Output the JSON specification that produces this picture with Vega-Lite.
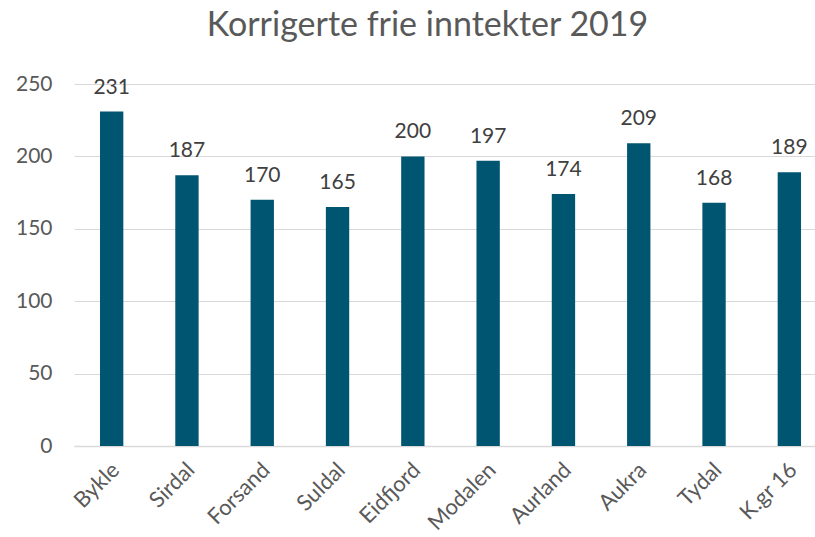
{
  "$schema": "https://vega.github.io/schema/vega-lite/v6.json",
  "autosize": "none",
  "width": 753,
  "height": 362,
  "padding": {"left": 74, "top": 84, "right": 0, "bottom": 91},
  "background": "white",
  "title": {
    "text": "Korrigerte frie inntekter 2019",
    "font": "Lato",
    "fontSize": 34,
    "fontWeight": "normal",
    "color": "#595959",
    "anchor": "middle",
    "dx": -23,
    "offset": 30
  },
  "config": {"view": {"stroke": null}, "font": "Lato"},
  "data": {
    "values": [
      {"kommune": "Bykle", "verdi": 231},
      {"kommune": "Sirdal", "verdi": 187},
      {"kommune": "Forsand", "verdi": 170},
      {"kommune": "Suldal", "verdi": 165},
      {"kommune": "Eidfjord", "verdi": 200},
      {"kommune": "Modalen", "verdi": 197},
      {"kommune": "Aurland", "verdi": 174},
      {"kommune": "Aukra", "verdi": 209},
      {"kommune": "Tydal", "verdi": 168},
      {"kommune": "K.gr 16", "verdi": 189}
    ]
  },
  "encoding": {
    "x": {
      "field": "kommune",
      "type": "nominal",
      "sort": null,
      "scale": {"paddingInner": 0.69, "paddingOuter": 0.345},
      "axis": {
        "title": null,
        "labelAngle": -45,
        "labelAlign": "right",
        "labelBaseline": "middle",
        "labelFont": "Lato",
        "labelFontSize": 22,
        "labelColor": "#595959",
        "labelPadding": 20,
        "labelOffset": 4,
        "ticks": false,
        "domainColor": "#d9d9d9",
        "domainWidth": 1.5,
        "grid": false
      }
    },
    "y": {
      "field": "verdi",
      "type": "quantitative",
      "scale": {"domain": [0, 250], "nice": false},
      "axis": {
        "title": null,
        "values": [0, 50, 100, 150, 200, 250],
        "labelFont": "Lato",
        "labelFontSize": 21,
        "labelColor": "#595959",
        "labelPadding": 22,
        "ticks": false,
        "domain": false,
        "gridColor": "#d9d9d9",
        "gridWidth": 1
      }
    }
  },
  "layer": [
    {"mark": {"type": "bar", "color": "#005570"}},
    {
      "mark": {
        "type": "text",
        "baseline": "alphabetic",
        "dy": -18,
        "fontSize": 21,
        "font": "Lato",
        "color": "#404040"
      },
      "encoding": {"text": {"field": "verdi", "type": "quantitative"}}
    }
  ]
}
